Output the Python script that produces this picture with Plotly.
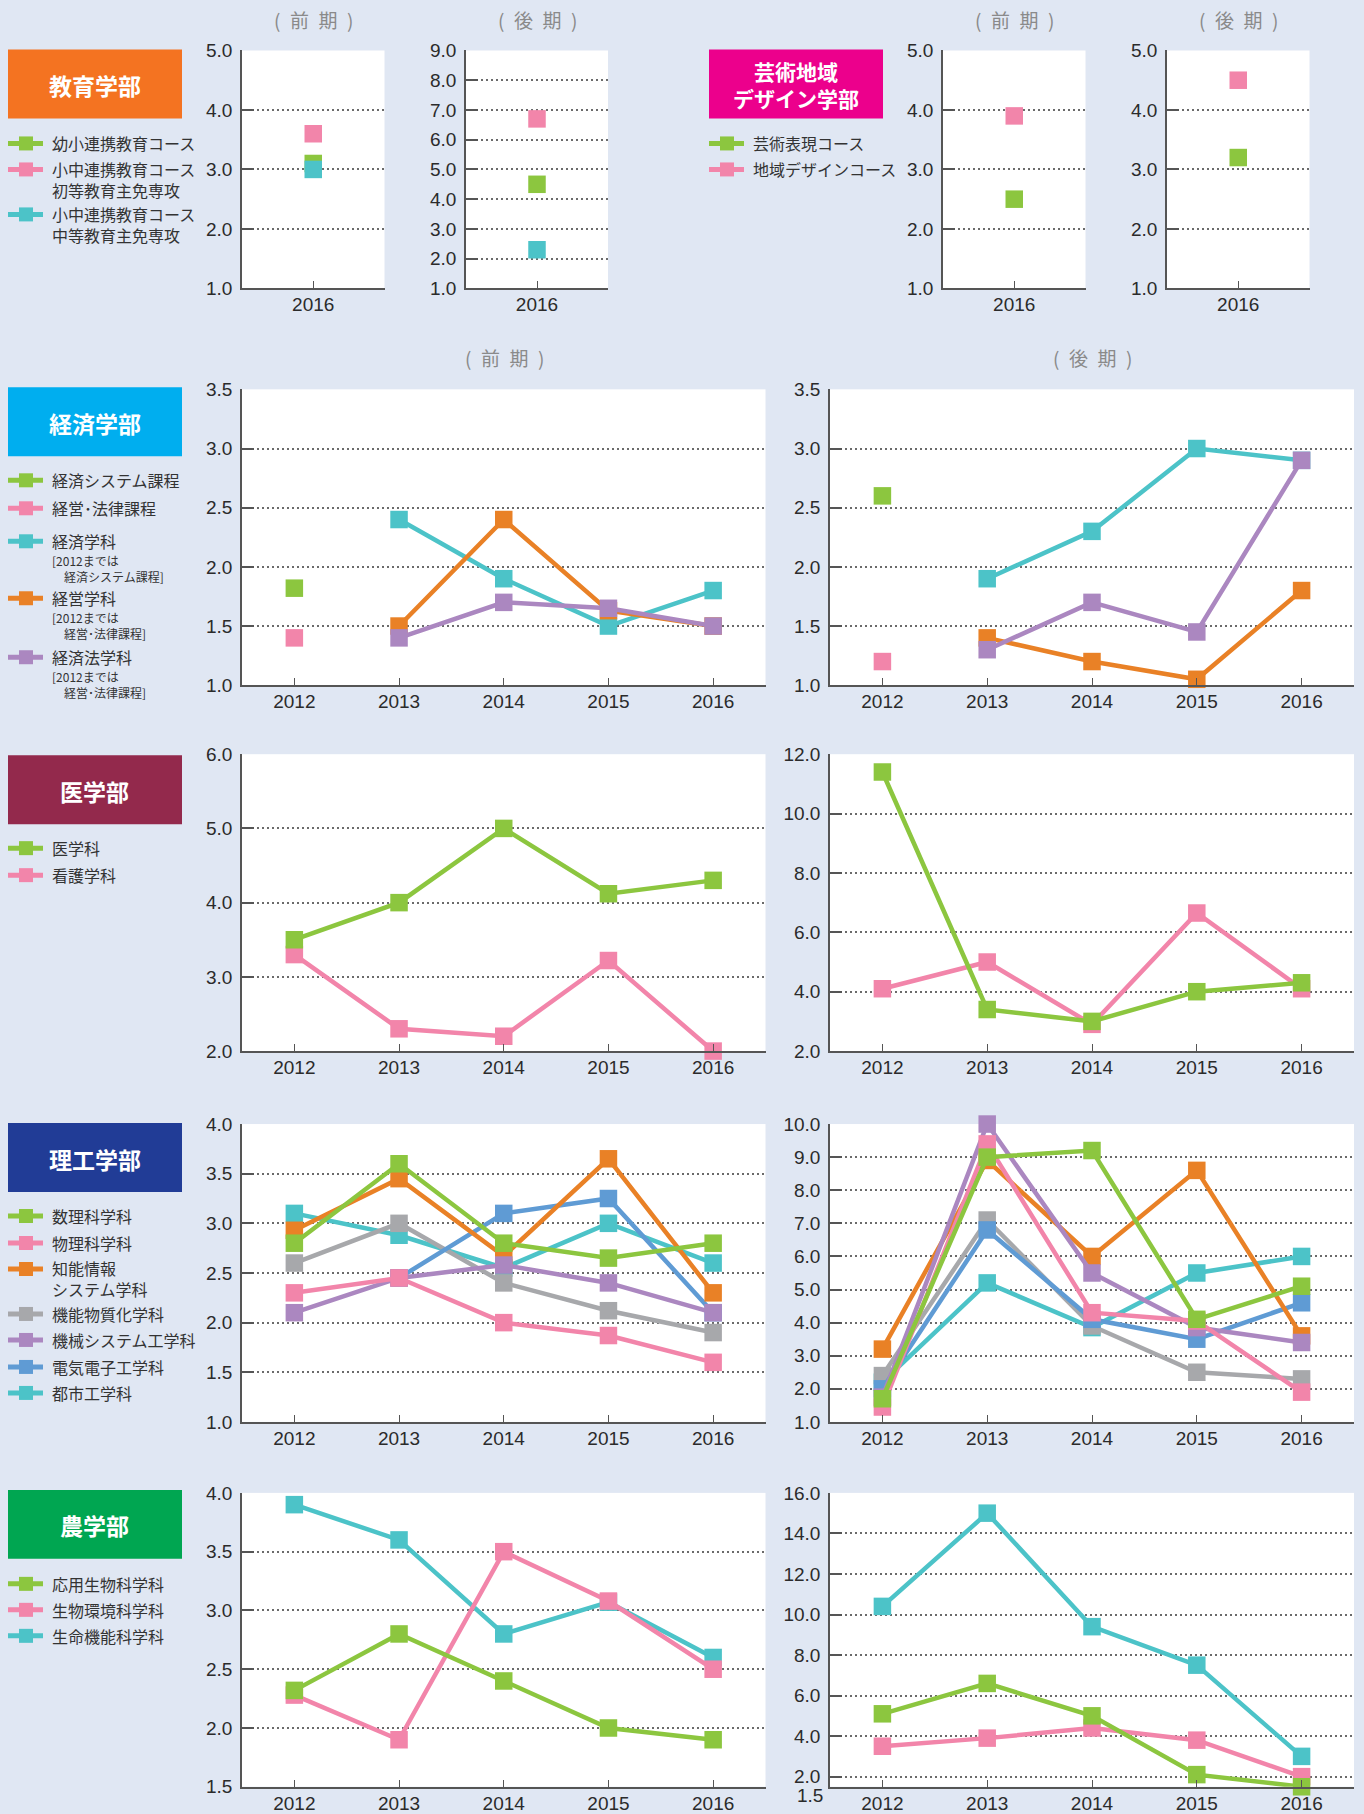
import plotly.graph_objects as go

W, H = 1364, 1814

# ---------------- data ----------------
years = [2012, 2013, 2014, 2015, 2016]
year_2016 = [2016]

# 教育学部 (2016)
edu_zenki_youshou = [3.1]
edu_zenki_shotou = [3.6]
edu_zenki_chuutou = [3.0]
edu_kouki_youshou = [4.5]
edu_kouki_shotou = [6.7]
edu_kouki_chuutou = [2.3]

# 芸術地域デザイン学部 (2016)
art_zenki_hyougen = [2.5]
art_zenki_chiiki = [3.9]
art_kouki_hyougen = [3.2]
art_kouki_chiiki = [4.5]

# 経済学部
eco_zenki_system = [1.82, None, None, None, None]
eco_zenki_keihou = [1.4, None, None, None, None]
eco_zenki_keizai = [None, 2.4, 1.9, 1.5, 1.8]
eco_zenki_keiei = [None, 1.5, 2.4, 1.63, 1.5]
eco_zenki_keizaihou = [None, 1.4, 1.7, 1.65, 1.5]
eco_kouki_system = [2.6, None, None, None, None]
eco_kouki_keihou = [1.2, None, None, None, None]
eco_kouki_keizai = [None, 1.9, 2.3, 3.0, 2.9]
eco_kouki_keiei = [None, 1.4, 1.2, 1.05, 1.8]
eco_kouki_keizaihou = [None, 1.3, 1.7, 1.45, 2.9]

# 医学部
med_zenki_igaku = [3.5, 4.0, 5.0, 4.12, 4.3]
med_zenki_kango = [3.3, 2.3, 2.2, 3.22, 2.0]
med_kouki_igaku = [11.4, 3.4, 3.0, 4.0, 4.3]
med_kouki_kango = [4.1, 5.0, 2.9, 6.65, 4.1]

# 理工学部
sci_zenki_suuri = [2.8, 3.6, 2.8, 2.65, 2.8]
sci_zenki_butsuri = [2.3, 2.45, 2.0, 1.87, 1.6]
sci_zenki_chinou = [2.93, 3.45, 2.67, 3.65, 2.3]
sci_zenki_busshitsu = [2.6, 3.0, 2.4, 2.12, 1.9]
sci_zenki_kikai = [2.1, 2.45, 2.58, 2.4, 2.1]
sci_zenki_denki = [None, 2.45, 3.1, 3.25, 2.1]
sci_zenki_toshi = [3.1, 2.88, 2.55, 3.0, 2.6]
sci_kouki_suuri = [1.7, 9.0, 9.2, 4.1, 5.1]
sci_kouki_butsuri = [1.45, 9.4, 4.3, 4.05, 1.9]
sci_kouki_chinou = [3.2, 8.9, 6.0, 8.6, 3.6]
sci_kouki_busshitsu = [2.4, 7.1, 3.9, 2.5, 2.3]
sci_kouki_kikai = [1.75, 10.0, 5.5, 3.85, 3.4]
sci_kouki_denki = [2.0, 6.8, 4.1, 3.5, 4.6]
sci_kouki_toshi = [2.2, 5.2, 3.85, 5.5, 6.0]

# 農学部
agr_zenki_ouyou = [2.32, 2.8, 2.4, 2.0, 1.9]
agr_zenki_kankyou = [2.28, 1.9, 3.5, 3.08, 2.5]
agr_zenki_seimei = [3.9, 3.6, 2.8, 3.07, 2.6]
agr_kouki_ouyou = [5.1, 6.6, 5.0, 2.1, 1.5]
agr_kouki_kankyou = [3.5, 3.9, 4.4, 3.8, 2.0]
agr_kouki_seimei = [10.4, 15.0, 9.4, 7.5, 3.0]

# y tick values
ticks_1_5 = [1.0, 2.0, 3.0, 4.0, 5.0]
ticks_1_9 = [1.0, 2.0, 3.0, 4.0, 5.0, 6.0, 7.0, 8.0, 9.0]
ticks_eco = [1.0, 1.5, 2.0, 2.5, 3.0, 3.5]
ticks_med_z = [2.0, 3.0, 4.0, 5.0, 6.0]
ticks_med_k = [2.0, 4.0, 6.0, 8.0, 10.0, 12.0]
ticks_sci_z = [1.0, 1.5, 2.0, 2.5, 3.0, 3.5, 4.0]
ticks_sci_k = [1.0, 2.0, 3.0, 4.0, 5.0, 6.0, 7.0, 8.0, 9.0, 10.0]
ticks_agr_z = [1.5, 2.0, 2.5, 3.0, 3.5, 4.0]
ticks_agr_k = [2.0, 4.0, 6.0, 8.0, 10.0, 12.0, 14.0, 16.0]
agr_k_min = 1.5

# ---------------- styles ----------------
GREEN = "#8CC63F"
PINK = "#F285AA"
CYAN = "#4CC3C8"
ORANGE = "#E98126"
PURPLE = "#AB87C0"
GRAY = "#A7A8AB"
BLUE = "#5F9BD4"
AXC = "#555555"
GRIDC = "#6a6a6a"
BG = "#E0E7F3"
TICKFONT = dict(family="Liberation Sans, Arial, sans-serif", size=19, color="#2b2b2b")
JP = "Noto Sans CJK JP"

fig = go.Figure()
axes = {}
state = {"n": 0}


def Y(v):
    # vertical layout position (px from top) after calibration
    return -8.6 + 1.0113 * v


def dom_x(a, b):
    return [a / W, b / W]


def dom_y(top, bot):
    return [1 - Y(bot) / H, 1 - Y(top) / H]


def add_panel(xpx, ypx, xs, yrange, ytick, series, lines=True):
    state["n"] += 1
    n = state["n"]
    s = "" if n == 1 else str(n)
    axes["xaxis" + s] = dict(
        domain=dom_x(*xpx), anchor="y" + s, range=[xs[0] - 0.5, xs[-1] + 0.5],
        tickmode="array", tickvals=xs, ticktext=[str(v) for v in xs],
        showline=True, linecolor=AXC, linewidth=2, ticks="inside", ticklen=7,
        tickwidth=1.2, tickcolor=AXC, showgrid=False, zeroline=False,
        tickfont=TICKFONT, ticklabelstandoff=-2, fixedrange=True)
    axes["yaxis" + s] = dict(
        domain=dom_y(*ypx), anchor="x" + s, range=yrange,
        tickmode="array", tickvals=ytick, ticktext=[f"{v:.1f}" for v in ytick],
        showline=True, linecolor=AXC, linewidth=1.5, ticks="inside", ticklen=12,
        tickwidth=2, tickcolor=AXC, showgrid=True, gridcolor=GRIDC, gridwidth=2,
        griddash="2px,3px", zeroline=False, tickfont=TICKFONT,
        ticklabelstandoff=4, fixedrange=True)
    for vals, color, name in series:
        fig.add_trace(go.Scatter(
            x=xs, y=vals, xaxis="x" + s, yaxis="y" + s, name=name,
            mode="lines+markers" if lines else "markers",
            line=dict(color=color, width=4.5),
            marker=dict(symbol="square", size=17.5, color=color),
            cliponaxis=False, showlegend=False, connectgaps=False))
    return s


# Row 1
R1 = (49, 287)
add_panel((242, 384.5), R1, year_2016, [1, 5], ticks_1_5,
          [(edu_zenki_shotou, PINK, "小中連携教育コース 初等教育主免専攻"),
           (edu_zenki_youshou, GREEN, "幼小連携教育コース"),
           (edu_zenki_chuutou, CYAN, "小中連携教育コース 中等教育主免専攻")], lines=False)
add_panel((466, 608), R1, year_2016, [1, 9], ticks_1_9,
          [(edu_kouki_shotou, PINK, "小中連携教育コース 初等教育主免専攻"),
           (edu_kouki_youshou, GREEN, "幼小連携教育コース"),
           (edu_kouki_chuutou, CYAN, "小中連携教育コース 中等教育主免専攻")], lines=False)
add_panel((943, 1085.5), R1, year_2016, [1, 5], ticks_1_5,
          [(art_zenki_hyougen, GREEN, "芸術表現コース"),
           (art_zenki_chiiki, PINK, "地域デザインコース")], lines=False)
add_panel((1167, 1309.5), R1, year_2016, [1, 5], ticks_1_5,
          [(art_kouki_hyougen, GREEN, "芸術表現コース"),
           (art_kouki_chiiki, PINK, "地域デザインコース")], lines=False)

XL = (242, 765.5)
XR = (830, 1354)

# Row 2 経済
R2 = (388, 684)
add_panel(XL, R2, years, [1.0, 3.5], ticks_eco,
          [(eco_zenki_system, GREEN, "経済システム課程"), (eco_zenki_keihou, PINK, "経営・法律課程"),
           (eco_zenki_keizai, CYAN, "経済学科"), (eco_zenki_keiei, ORANGE, "経営学科"),
           (eco_zenki_keizaihou, PURPLE, "経済法学科")])
add_panel(XR, R2, years, [1.0, 3.5], ticks_eco,
          [(eco_kouki_system, GREEN, "経済システム課程"), (eco_kouki_keihou, PINK, "経営・法律課程"),
           (eco_kouki_keizai, CYAN, "経済学科"), (eco_kouki_keiei, ORANGE, "経営学科"),
           (eco_kouki_keizaihou, PURPLE, "経済法学科")])

# Row 3 医
R3 = (753, 1050)
add_panel(XL, R3, years, [2.0, 6.0], ticks_med_z,
          [(med_zenki_kango, PINK, "看護学科"), (med_zenki_igaku, GREEN, "医学科")])
add_panel(XR, R3, years, [2.0, 12.0], ticks_med_k,
          [(med_kouki_kango, PINK, "看護学科"), (med_kouki_igaku, GREEN, "医学科")])

# Row 4 理工
R4 = (1123, 1421)
add_panel(XL, R4, years, [1.0, 4.0], ticks_sci_z,
          [(sci_zenki_toshi, CYAN, "都市工学科"), (sci_zenki_busshitsu, GRAY, "機能物質化学科"),
           (sci_zenki_denki, BLUE, "電気電子工学科"), (sci_zenki_chinou, ORANGE, "知能情報システム学科"),
           (sci_zenki_kikai, PURPLE, "機械システム工学科"), (sci_zenki_butsuri, PINK, "物理科学科"),
           (sci_zenki_suuri, GREEN, "数理科学科")])
add_panel(XR, R4, years, [1.0, 10.0], ticks_sci_k,
          [(sci_kouki_toshi, CYAN, "都市工学科"), (sci_kouki_busshitsu, GRAY, "機能物質化学科"),
           (sci_kouki_denki, BLUE, "電気電子工学科"), (sci_kouki_chinou, ORANGE, "知能情報システム学科"),
           (sci_kouki_kikai, PURPLE, "機械システム工学科"), (sci_kouki_butsuri, PINK, "物理科学科"),
           (sci_kouki_suuri, GREEN, "数理科学科")])

# Row 5 農 (bottom kept so the year labels stay on the page)
R5 = (1492, 1786)
add_panel(XL, R5, years, [1.5, 4.0], ticks_agr_z,
          [(agr_zenki_seimei, CYAN, "生命機能科学科"), (agr_zenki_kankyou, PINK, "生物環境科学科"),
           (agr_zenki_ouyou, GREEN, "応用生物科学科")])
s_agr_k = add_panel(XR, R5, years, [agr_k_min, 16.0], ticks_agr_k,
                    [(agr_kouki_seimei, CYAN, "生命機能科学科"), (agr_kouki_kankyou, PINK, "生物環境科学科"),
                     (agr_kouki_ouyou, GREEN, "応用生物科学科")])

shapes = []
annotations = []


def px_x(v):
    return v / W


def px_y(v):
    return 1 - Y(v) / H


def text(x, y, t, size=16, color="#333333", anchor="left", family=JP, bold=False):
    annotations.append(dict(
        x=px_x(x), y=px_y(y), xref="paper", yref="paper", text=("<b>%s</b>" % t) if bold else t,
        showarrow=False, xanchor=anchor, yanchor="middle", align=anchor if anchor != "center" else "center",
        font=dict(family=family, size=size, color=color)))


def box(x0, x1, y0, y1, color, label, size=23):
    shapes.append(dict(type="rect", xref="paper", yref="paper",
                       x0=px_x(x0), x1=px_x(x1), y0=px_y(y1), y1=px_y(y0),
                       fillcolor=color, line=dict(width=0), layer="below"))
    text((x0 + x1) / 2, (y0 + y1) / 2 + 1, label, size=size, color="white", anchor="center", bold=True)


def legend_item(x, y, color, name, ycenter=None, sub=None, sub_y=None):
    shapes.append(dict(type="line", xref="paper", yref="paper",
                       x0=px_x(x), x1=px_x(x + 35), y0=px_y(y), y1=px_y(y),
                       line=dict(color=color, width=5)))
    shapes.append(dict(type="rect", xref="paper", yref="paper",
                       x0=px_x(x + 11), x1=px_x(x + 25), y0=px_y(y + 7), y1=px_y(y - 7),
                       fillcolor=color, line=dict(width=0)))
    text(x + 42, y if ycenter is None else ycenter, name, size=16)
    if sub:
        text(x + 42, sub_y, sub, size=12)


# period titles
TITLE_C = "#8a8a8a"
ZENKI = "(\u2002前\u2002期\u2002)"
KOUKI = "(\u2002後\u2002期\u2002)"
for cx, cy, t in [(313, 18, ZENKI), (537, 18, KOUKI),
                  (1014, 18, ZENKI), (1238, 18, KOUKI),
                  (504, 356, ZENKI), (1092, 356, KOUKI)]:
    text(cx, cy, t, size=19, color=TITLE_C, anchor="center")

# faculty boxes
box(8, 182, 48, 117, "#F47321", "教育学部")
box(709, 883, 48, 117, "#EC008C", "芸術地域<br>デザイン学部", size=21)
box(8, 182, 386, 455, "#00AEEF", "経済学部")
box(8, 182, 754, 823, "#93294C", "医学部")
box(8, 182, 1122, 1191, "#213C96", "理工学部")
box(8, 182, 1489, 1558, "#00A651", "農学部")

# legends
legend_item(8, 142, GREEN, "幼小連携教育コース")
legend_item(8, 168, PINK, "小中連携教育コース<br>初等教育主免専攻", ycenter=178.5)
legend_item(8, 213, CYAN, "小中連携教育コース<br>中等教育主免専攻", ycenter=223.5)

legend_item(709, 142, GREEN, "芸術表現コース")
legend_item(709, 168, PINK, "地域デザインコース")

legend_item(8, 479, GREEN, "経済システム課程")
legend_item(8, 507, PINK, "経営･法律課程")
legend_item(8, 540, CYAN, "経済学科", sub="[2012までは<br>\u3000経済システム課程]", sub_y=567)
legend_item(8, 597, ORANGE, "経営学科", sub="[2012までは<br>\u3000経営･法律課程]", sub_y=624)
legend_item(8, 656, PURPLE, "経済法学科", sub="[2012までは<br>\u3000経営･法律課程]", sub_y=683)

legend_item(8, 847, GREEN, "医学科")
legend_item(8, 874, PINK, "看護学科")

legend_item(8, 1215, GREEN, "数理科学科")
legend_item(8, 1242, PINK, "物理科学科")
legend_item(8, 1268, ORANGE, "知能情報<br>システム学科", ycenter=1278)
legend_item(8, 1313, GRAY, "機能物質化学科")
legend_item(8, 1339, PURPLE, "機械システム工学科")
legend_item(8, 1366, BLUE, "電気電子工学科")
legend_item(8, 1392, CYAN, "都市工学科")

legend_item(8, 1583, GREEN, "応用生物科学科")
legend_item(8, 1609, PINK, "生物環境科学科")
legend_item(8, 1635, CYAN, "生命機能科学科")

# bottom label of the 農学部 後期 axis (kept apart from the 2.0 label)
annotations.append(dict(
    x=px_x(XR[0] - 5), y=agr_k_min, xref="paper", yref="y" + s_agr_k,
    text=f"{agr_k_min:.1f}", showarrow=False, xanchor="right", yanchor="middle", yshift=-9,
    font=TICKFONT))

fig.update_layout(
    width=W, height=H, margin=dict(l=0, r=0, t=0, b=0),
    paper_bgcolor=BG, plot_bgcolor="white", showlegend=False,
    font=dict(family=JP, color="#333333"),
    shapes=shapes, annotations=annotations, **axes)

POST = (
    "document.documentElement.style.margin='0';"
    "document.documentElement.style.padding='0';"
    "document.documentElement.style.overflow='hidden';"
    "document.body.style.margin='0';"
    "document.body.style.padding='0';"
    "document.body.style.overflow='hidden';"
    "var gd=document.getElementById('{plot_id}');"
    "gd.style.position='fixed';gd.style.top='0px';gd.style.left='0px';"
)

fig.write_html("out.html", config={"displayModeBar": False}, post_script=POST)
